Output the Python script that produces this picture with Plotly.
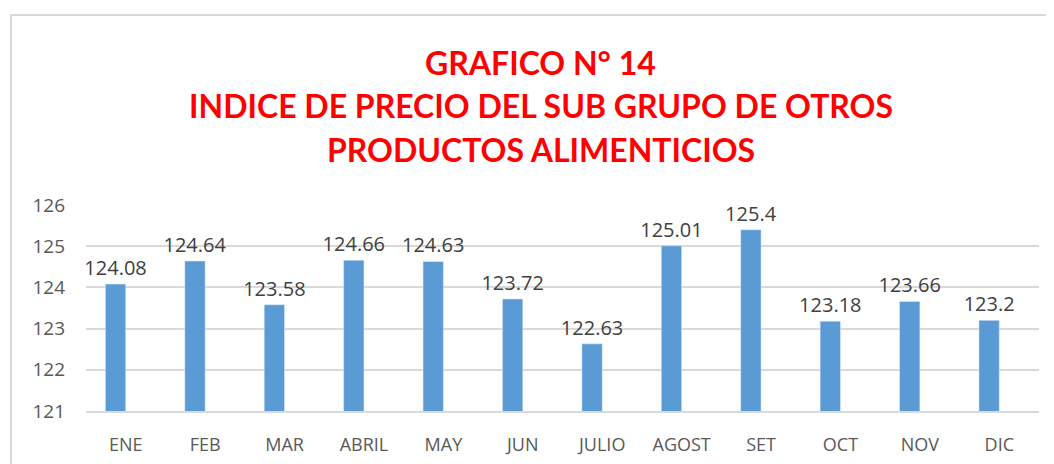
import plotly.graph_objects as go

# Indice de precios mensual
meses = ['ENE', 'FEB', 'MAR', 'ABRIL', 'MAY', 'JUN', 'JULIO', 'AGOST', 'SET', 'OCT', 'NOV', 'DIC']
indice = [124.08, 124.64, 123.58, 124.66, 124.63, 123.72, 122.63, 125.01, 125.4, 123.18, 123.66, 123.2]
y_ticks = [121, 122, 123, 124, 125, 126]
titulo = ['GRAFICO N° 14', 'INDICE DE PRECIO DEL SUB GRUPO DE OTROS', 'PRODUCTOS ALIMENTICIOS']

fig = go.Figure()
# barra desplazada a la izquierda del centro de la categoria (como en el original)
fig.add_trace(go.Bar(x=meses, y=indice, marker=dict(color='#5B9BD5'),
                     text=[str(v) for v in indice], textposition='outside',
                     textfont=dict(family='Open Sans', size=20, color='#404040'),
                     constraintext='none', cliponaxis=False, width=0.256, offset=-0.256))

# la pagina agrega 8px de margen al cuerpo, se descuenta aqui
fig.update_layout(
    width=1054, height=464,
    plot_bgcolor='white', paper_bgcolor='white',
    margin=dict(l=78, r=23, t=197, b=61),
    showlegend=False,
)

# titulo en tres lineas
for linea, yy in zip(titulo, [1.694, 1.485, 1.267]):
    fig.add_annotation(text="<b>" + linea + "</b>", xref='paper', yref='paper', x=0.4774, y=yy,
                       xanchor='center', yanchor='middle', showarrow=False,
                       font=dict(family='Lato', size=32, color='#FF0000'))

fig.update_xaxes(showgrid=False, showline=True, linecolor='#D9D9D9', linewidth=1.5,
                 tickfont=dict(family='Open Sans', size=18, color='#595959'),
                 ticks='', ticklabelstandoff=17, automargin=False)
fig.update_yaxes(range=[121, 126], tickvals=y_ticks, gridcolor='#D9D9D9', gridwidth=1.5,
                 zeroline=False, tickfont=dict(family='Open Sans', size=19, color='#595959'),
                 ticks='', ticklabelstandoff=20, automargin=False)

# marco del grafico
fig.add_shape(type='rect', xref='paper', yref='paper', x0=-0.0787, x1=1.2, y0=-0.5, y1=1.922,
              line=dict(color='#D9D9D9', width=2), layer='below')

fig.write_html("out.html")
